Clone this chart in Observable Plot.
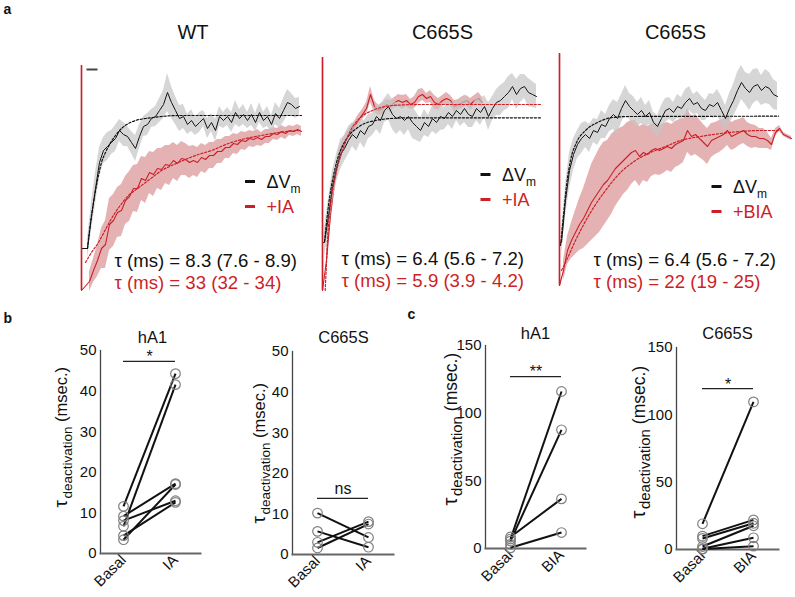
<!DOCTYPE html>
<html><head><meta charset="utf-8">
<script src="https://cdn.jsdelivr.net/npm/d3@7"></script>
<script src="https://cdn.jsdelivr.net/npm/@observablehq/plot@0.6"></script>
<style>
body{margin:0;background:#fff;}
#fig{position:relative;width:795px;height:597px;overflow:hidden;background:#fff;}
#fig svg{position:absolute;left:0;top:0;background:transparent;}
</style></head><body><div id="fig"></div>
<script>
// ---------------- DATA ----------------
const DT = 2; // ms between digitised samples

// Panel a – WT
const wtOnset = [-0.5, -23.0];
const wtCtrlT0 = 3;
const wtCtrl = [-18.8,-15.6,-12.8,-10.2,-9.0,-8.6,-8.2,-7.8,-7.0,-7.4,-7.6,-8.2,-8.8,-7.6,-6.6,-6.4,-5.8,-5.6,-5.0,-4.4,-3.2,-4.2,-5.0,-5.8,-5.6,-6.4,-6.0,-6.6,-6.2,-5.8,-6.8,-6.2,-7.0,-5.6,-6.0,-5.6,-6.2,-5.2,-5.8,-5.4,-6.0,-5.4,-6.2,-5.2,-6.0,-5.6,-6.4,-5.3,-5.8,-5.0,-4.2,-4.4,-4.8,-4.6];
const wtCtrlSem = [1.0,1.4,1.6,1.5,1.3,1.4,1.2,1.3,1.1,1.2,1.0,1.1,1.3,1.2,1.0,1.1,0.9,1.0,1.2,1.4,1.9,1.6,1.4,1.3,1.2,1.0,1.1,0.9,1.0,0.8,1.0,0.9,1.1,1.0,0.8,0.9,1.0,1.2,0.9,1.0,0.8,1.1,0.9,1.0,0.8,1.0,0.9,1.1,1.0,1.2,1.3,1.1,1.0,0.9];
const wtIAT0 = 4;
const wtIA = [-22.1,-21.0,-20.0,-18.8,-18.4,-16.4,-16.0,-15.2,-15.0,-14.0,-13.6,-12.8,-12.8,-11.8,-12.0,-11.2,-11.4,-10.8,-10.9,-10.4,-10.5,-10.0,-10.3,-9.8,-9.9,-10.2,-10.0,-10.2,-9.7,-9.9,-9.5,-9.5,-9.1,-9.1,-8.7,-8.7,-8.3,-8.4,-8.0,-8.1,-7.8,-7.9,-7.7,-7.9,-7.6,-7.6,-7.3,-7.4,-7.1,-7.3,-7.0,-7.1,-6.9,-7.1];
const wtIASem = [1.0,1.2,1.6,2.0,2.4,2.6,2.6,2.5,2.6,2.4,2.5,2.3,2.4,2.2,2.3,2.1,2.2,2.0,2.1,1.9,2.0,1.8,1.8,1.7,1.6,1.6,1.5,1.5,1.4,1.4,1.3,1.3,1.2,1.2,1.1,1.1,1.0,1.0,0.9,0.9,0.8,0.8,0.8,0.7,0.7,0.7,0.6,0.6,0.6,0.6,0.5,0.5,0.5,0.5];
const wtCtrlFit = [[3,-18.8],[4,-17.0],[5,-15.5],[6.5,-13.6],[8.5,-11.5],[10,-10.2],[12,-9.2],[14,-8.4],[17,-7.5],[20,-6.8],[23.5,-6.3],[27,-6.0],[32,-5.8],[36,-5.7],[40,-5.6],[48.5,-5.5],[60,-5.5],[110,-5.5]];
const wtIAFit = [[2,-20.2],[5,-19.2],[8.5,-18.2],[12,-16.9],[15,-15.8],[19,-14.6],[23.5,-13.5],[28,-12.8],[32,-12.2],[36,-11.6],[40,-11.0],[44,-10.6],[48.5,-10.2],[57,-9.5],[65,-9.0],[73.5,-8.3],[82,-7.8],[90,-7.5],[98.5,-7.2],[108.5,-7.0]];
const wtScaleBar = [{t1: 2.5, t2: 8, v: -0.9}];

// Panel a – C665S (+IA)
const c1Onset = [0.3, -23.0];
const c1CtrlT0 = 1;
const c1Ctrl = [-18.2,-15.6,-12.6,-10.8,-9.4,-8.8,-8.0,-7.4,-7.8,-7.0,-7.4,-6.6,-6.4,-5.6,-6.0,-5.0,-4.6,-5.4,-5.8,-5.6,-6.0,-5.6,-6.2,-6.6,-7.0,-6.2,-6.6,-5.8,-6.2,-5.6,-5.8,-5.2,-5.6,-5.0,-5.4,-4.8,-5.4,-5.6,-4.8,-5.2,-4.6,-5.6,-4.8,-4.2,-4.0,-3.6,-3.2,-2.6,-3.4,-2.8,-2.6,-3.2,-3.4,-3.6];
const c1CtrlSem = [1.5,1.8,1.6,1.4,1.5,1.3,1.4,1.2,1.3,1.2,1.4,1.2,1.1,1.3,1.4,1.2,1.3,1.5,1.6,1.4,1.5,1.3,1.6,1.4,1.2,1.3,1.1,1.3,1.2,1.4,1.1,1.2,1.3,1.0,1.2,1.4,1.3,1.1,1.2,1.3,1.1,1.4,1.2,1.3,1.5,1.4,1.6,1.3,1.5,1.4,1.2,1.4,1.3,1.2];
const c1IAT0 = 2;
const c1IA = [-20.0,-15.4,-12.2,-9.8,-8.6,-7.8,-7.2,-6.6,-6.0,-5.4,-4.8,-3.4,-4.6,-5.0,-4.8,-4.4,-4.6,-4.2,-4.0,-4.2,-4.0,-4.4,-4.2,-3.6,-3.4,-3.8,-3.6,-4.2,-4.4,-4.0,-3.8,-4.0,-4.6,-4.4,-4.2,-4.0,-4.4,-4.0,-3.8,-4.2];
const c1IASem = [0.8,1.2,1.0,0.8,0.7,0.6,0.6,0.5,0.6,0.5,0.6,0.8,0.6,0.5,0.6,0.5,0.6,0.5,0.6,0.7,0.6,0.5,0.6,0.7,0.6,0.5,0.6,0.7,0.6,0.5,0.6,0.5,0.6,0.5,0.6,0.5,0.6,0.5,0.6,0.5];
const c1CtrlFit = [[1,-18.1],[2,-16.2],[3,-14.5],[4.25,-12.8],[5.5,-11.5],[7,-10.2],[9,-9.0],[11.5,-8.0],[14,-7.3],[17,-6.8],[20,-6.4],[26.5,-6.0],[34,-5.8],[44,-5.73],[109,-5.73]];
const c1IAFit = [[1.35,-23],[2,-20.2],[2.5,-18.0],[4,-14.5],[6.5,-11.5],[10,-9.0],[14,-7.0],[19,-5.7],[25,-5.0],[31.5,-4.6],[39,-4.45],[49,-4.4],[109,-4.4]];

// Panel a – C665S (+BIA)
const c2Onset = [0.7, -22.5];
const c2CtrlT0 = 1;
const c2Ctrl = [-18.2,-14.0,-11.0,-9.4,-8.4,-7.8,-7.4,-7.8,-7.0,-7.2,-6.4,-6.6,-5.8,-5.4,-5.8,-4.8,-4.0,-4.6,-5.0,-5.4,-5.0,-5.6,-5.2,-6.2,-6.6,-5.8,-5.0,-4.8,-5.2,-4.6,-4.8,-4.2,-3.8,-4.4,-4.2,-4.8,-5.0,-4.4,-4.6,-4.2,-5.0,-5.8,-4.8,-4.0,-3.0,-2.2,-2.8,-3.2,-2.6,-2.4,-3.0,-2.6,-2.8,-3.4,-3.6];
const c2CtrlSem = [1.2,1.6,1.8,1.6,1.4,1.5,1.3,1.4,1.2,1.3,1.4,1.2,1.3,1.5,1.6,1.4,1.5,1.3,1.4,1.2,1.3,1.1,1.2,1.0,1.1,1.3,1.2,1.1,1.0,1.2,1.1,1.3,1.2,1.0,1.1,1.2,1.0,1.1,1.2,1.3,1.4,1.3,1.5,1.6,1.8,1.7,1.6,1.8,1.7,1.6,1.5,1.7,1.6,1.5,1.4];
const c2BIAT0 = 2;
const c2BIA = [-21.0,-19.0,-18.0,-17.2,-16.4,-15.8,-15.0,-14.2,-13.6,-13.0,-12.4,-12.0,-11.4,-10.8,-10.4,-10.0,-9.6,-9.2,-9.0,-9.6,-9.2,-9.4,-9.0,-8.8,-9.0,-8.8,-8.6,-8.8,-8.4,-8.2,-8.0,-7.0,-7.6,-7.4,-7.8,-8.2,-8.6,-8.0,-7.8,-7.6,-7.4,-7.0,-7.6,-7.4,-7.2,-7.0,-7.4,-7.6,-7.6,-7.8,-7.8,-8.0,-8.4,-7.2,-6.8,-7.4,-7.6,-7.8];
const c2BIASem = [1.0,1.4,1.8,2.2,2.6,3.0,3.4,3.8,4.0,4.2,4.2,4.0,4.0,3.8,3.6,3.4,3.4,3.2,3.0,3.0,2.8,2.8,2.6,2.6,2.5,2.5,2.4,2.4,2.3,2.3,2.2,2.2,2.0,2.0,1.9,1.8,1.8,1.7,1.6,1.6,1.5,1.5,1.4,1.4,1.3,1.3,1.2,1.2,1.1,1.0,1.0,0.8,0.6,0.4,0.3,0.2,0.2,0.2];
const c2CtrlFit = [[0.5,-18.5],[2,-15.5],[3.5,-12.5],[5.5,-10.0],[8.5,-8.2],[13,-7.0],[19,-6.2],[26.5,-5.7],[35.5,-5.6],[109.5,-5.57]];
const c2BIAFit = [[1,-21],[3,-20.2],[8,-18.0],[15.5,-15.2],[23,-13.0],[30.5,-11.2],[38,-10.0],[45.5,-9.2],[53,-8.6],[60.5,-8.0],[70.5,-7.6],[80.5,-7.3],[90.5,-7.1],[100.5,-7.0],[109.5,-7.0]];

// Panels b, c – paired tau (msec.)
const bHA1Basal = [11.6, 9.2, 8.1, 6.7, 4.4, 3.4];
const bHA1IA    = [44.3, 17.2, 13.0, 41.6, 12.6, 17.0];
const bC665SBasal = [10.2, 5.7, 3.0, 1.6];
const bC665SIA    = [4.2, 1.8, 8.1, 7.5];
const cHA1Basal = [8.5, 7.0, 5.5, 3.0, 0.5];
const cHA1BIA   = [36.7, 116, 87.7, null, 11.8];
const cC665SBasal = [19.1, 9.9, 8.2, 2.2, 0.5, 0.3];
const cC665SBIA   = [109.6, 22.0, 19.5, 17.6, 8.7, 2.5];
const ticks50 = [0, 10, 20, 30, 40, 50];
const ticks150 = [0, 50, 100, 150];

// ---------------- DRAWING ----------------
const W = 795, H = 597;
const RED = "#cc1f27";
const FONT = "'Liberation Sans', Arial, Helvetica, sans-serif";
const fig = document.getElementById("fig");
const DASH = {draw(ctx) { ctx.moveTo(-5, 0); ctx.lineTo(5, 0); }};

function txt(s, dx, dy, o = {}) {
  return Plot.text([s], {text: d => d, frameAnchor: "top-left", dx, dy, textAnchor: "start",
    lineAnchor: "bottom", fontSize: 18, fill: "#111", ...o});
}
function key(dx, dy, color) {
  return Plot.dot([0], {frameAnchor: "top-left", dx, dy, symbol: DASH, r: 5, stroke: color, strokeWidth: 3, fill: "none"});
}
const rows = (t0, v, s) => v.map((y, i) => ({t: t0 + i * DT, v: y, lo: y - s[i], hi: y + s[i]}));
const fitRows = f => f.map(([t, v]) => ({t, v}));

function tracePlot(c) {
  const ctrl = rows(c.ctrlT0, c.ctrl, c.ctrlSem);
  const drug = rows(c.drugT0, c.drug, c.drugSem);
  const ctrlLine = [{t: 0, v: c.onset[0]}, {t: 0, v: c.ctrl[0]}, ...ctrl];
  const drugLine = [{t: 0, v: c.onset[0]}, {t: 0, v: c.onset[1]}, ...drug];
  return Plot.plot({
    width: W, height: H, marginLeft: c.L, marginRight: W - c.R, marginTop: 60, marginBottom: H - 290,
    x: {domain: [0, c.tMax], axis: null}, y: {domain: [-23, 0], axis: null},
    style: {background: "transparent", fontFamily: FONT, overflow: "visible"},
    marks: [
      Plot.areaY(drug, {x: "t", y1: "lo", y2: "hi", fill: "#c0474c", fillOpacity: 0.42}),
      Plot.line(drugLine, {x: "t", y: "v", stroke: RED, strokeWidth: 1.1}),
      Plot.areaY(ctrl, {x: "t", y1: "lo", y2: "hi", fill: "#c4c4c4", fillOpacity: 0.7}),
      Plot.line(ctrlLine, {x: "t", y: "v", stroke: "#151515", strokeWidth: 1}),
      Plot.line(fitRows(c.ctrlFit), {x: "t", y: "v", stroke: "#111", strokeWidth: 1.2, strokeDasharray: "2.2,1.8", curve: "monotone-x"}),
      Plot.line(fitRows(c.drugFit), {x: "t", y: "v", stroke: RED, strokeWidth: 1.2, strokeDasharray: "2.2,1.8", curve: "monotone-x"}),
      Plot.ruleX([0], {y1: c.onset[0], y2: c.onset[1], stroke: RED, strokeWidth: 1.6}),
      ...(c.scaleBar ? [Plot.link(c.scaleBar, {x1: "t1", x2: "t2", y1: "v", y2: "v", stroke: "#444", strokeWidth: 2})] : []),
      txt(c.title, c.titleDx, -22, {textAnchor: "middle", fontSize: 20}),
      key(c.kx, c.ky, "#111"),
      txt("ΔV", c.kx + 16.5, c.ky + 6.5),
      txt("m", c.kx + 40.5, c.ky + 11, {fontSize: 12}),
      key(c.kx, c.ky + 25, RED),
      txt(c.drugName, c.kx + 16.5, c.ky + 31.5, {fill: RED}),
      txt(c.tau1, c.tx, c.ty, {fontSize: 18.6}),
      txt(c.tau2, c.tx, c.ty + 22, {fill: RED, fontSize: 18.6}),
      ...(c.extra || [])
    ]
  });
}

// rotated axis label "τ_deactivation (msec.)"; (dx, dy) = start of the τ baseline
function yLabel(dx, dy, big) {
  const o = {rotate: -90, textAnchor: "start", lineAnchor: "bottom", fill: "#111"};
  const f = big ? [20, 15, 17.5] : [19, 13.5, 16.5];
  const wTau = 0.47 * f[0], wSub = 5.336 * f[1], wSp = 0.278 * f[2];
  return [
    txt("τ", dx, dy, {...o, fontSize: f[0]}),
    txt("deactivation", dx + 5, dy - wTau, {...o, fontSize: f[1]}),
    txt("(msec.)", dx, dy - wTau - wSub - wSp, {...o, fontSize: f[2]})
  ];
}

function pairPlot(c) {
  const pairs = c.basal.map((b, i) => ({b, d: c.drug[i]})).filter(p => p.d != null);
  const pts = [...c.basal.map(v => ({c: "Basal", v})), ...c.drug.filter(v => v != null).map(v => ({c: c.cond, v}))];
  return Plot.plot({
    width: W, height: H, marginLeft: c.L, marginRight: W - c.R, marginTop: c.T, marginBottom: H - c.B,
    x: {type: "point", domain: ["Basal", c.cond], range: c.xr, padding: 0},
    y: {domain: [0, c.yMax]},
    style: {background: "transparent", fontFamily: FONT, overflow: "visible"},
    marks: [
      Plot.frame({anchor: "left", stroke: "#444", strokeWidth: 1.3}),
      Plot.frame({anchor: "bottom", stroke: "#666", strokeWidth: 2}),
      Plot.axisY({ticks: c.ticks, tickSize: 0, tickPadding: 4, fontSize: 15, label: null, fill: "#111"}),
      Plot.axisX({tickSize: 0, tickPadding: 4, tickRotate: -45, fontSize: 15, label: null, fill: "#111"}),
      Plot.link(pairs, {x1: () => "Basal", y1: "b", x2: () => c.cond, y2: "d", stroke: "#111", strokeWidth: 2}),
      Plot.dot(pts, {x: "c", y: "v", r: 4.8, stroke: "#808080", strokeWidth: 1.2, fill: "none"}),
      Plot.ruleY([c.sig], {x1: () => "Basal", x2: () => c.cond, stroke: "#222", strokeWidth: 1.3}),
      Plot.text([c.sigText], {text: d => d, x: () => "Basal", y: () => c.sig, dx: (c.xr[1] - c.xr[0]) / 2,
        dy: c.sigDy, lineAnchor: "bottom", fontSize: 16, fill: "#111"}),
      txt(c.title, (c.R - c.L) / 2 + c.titleDx, c.titleDy, {textAnchor: "middle", fontSize: 16.5}),
      ...yLabel(c.lx, c.ly, c.bigLabel),
      ...(c.extra || [])
    ]
  });
}

const plots = [
  tracePlot({L: 81, R: 302, tMax: 110.5, onset: wtOnset,
    ctrlT0: wtCtrlT0, ctrl: wtCtrl, ctrlSem: wtCtrlSem, drugT0: wtIAT0, drug: wtIA, drugSem: wtIASem,
    ctrlFit: wtCtrlFit, drugFit: wtIAFit, scaleBar: wtScaleBar,
    title: "WT", titleDx: 111.5, kx: 168.5, ky: 121, drugName: "+IA",
    tau1: "τ (ms) = 8.3 (7.6 - 8.9)", tau2: "τ (ms) = 33 (32 - 34)", tx: 33, ty: 206,
    extra: [txt("a", -78, -47, {fontWeight: "bold", fontSize: 14})]}),
  tracePlot({L: 322, R: 540, tMax: 109, onset: c1Onset,
    ctrlT0: c1CtrlT0, ctrl: c1Ctrl, ctrlSem: c1CtrlSem, drugT0: c1IAT0, drug: c1IA, drugSem: c1IASem,
    ctrlFit: c1CtrlFit, drugFit: c1IAFit,
    title: "C665S", titleDx: 120, kx: 163, ky: 114, drugName: "+IA",
    tau1: "τ (ms) = 6.4 (5.6 - 7.2)", tau2: "τ (ms) = 5.9 (3.9 - 4.2)", tx: 19, ty: 204}),
  tracePlot({L: 559, R: 795, tMax: 118, onset: c2Onset,
    ctrlT0: c2CtrlT0, ctrl: c2Ctrl, ctrlSem: c2CtrlSem, drugT0: c2BIAT0, drug: c2BIA, drugSem: c2BIASem,
    ctrlFit: c2CtrlFit, drugFit: c2BIAFit,
    title: "C665S", titleDx: 116, kx: 157, ky: 126, drugName: "+BIA",
    tau1: "τ (ms) = 6.4 (5.6 - 7.2)", tau2: "τ (ms) = 22 (19 - 25)", tx: 34, ty: 205}),
  pairPlot({L: 100, T: 350, R: 200, B: 553, xr: [123, 175], cond: "IA", basal: bHA1Basal, drug: bHA1IA,
    yMax: 50, ticks: ticks50, sig: 47.3, sigText: "*", sigDy: 1, title: "hA1", titleDx: 2, titleDy: -8,
    lx: -34, ly: 157, extra: [txt("b", -97, -28, {fontWeight: "bold", fontSize: 14})]}),
  pairPlot({L: 292, T: 351, R: 393, B: 554, xr: [317, 368], cond: "IA", basal: bC665SBasal, drug: bC665SIA,
    yMax: 50, ticks: ticks50, sig: 13.8, sigText: "ns", sigDy: -4, title: "C665S", titleDx: 0.5, titleDy: -9,
    lx: -28, ly: 172}),
  pairPlot({L: 485, T: 345, R: 585, B: 548, xr: [510, 561], cond: "BIA", basal: cHA1Basal, drug: cHA1BIA,
    yMax: 150, ticks: ticks150, sig: 127, sigText: "**", sigDy: 0, title: "hA1", titleDx: 0, titleDy: -7,
    lx: -29, ly: 160, bigLabel: true, extra: [txt("c", -78, -27, {fontWeight: "bold", fontSize: 14})]}),
  pairPlot({L: 676, T: 347, R: 778, B: 549, xr: [702, 753], cond: "BIA", basal: cC665SBasal, drug: cC665SBIA,
    yMax: 150, ticks: ticks150, sig: 119.5, sigText: "*", sigDy: 1, title: "C665S", titleDx: 0, titleDy: -9,
    lx: -32, ly: 171, bigLabel: true})
];
plots.forEach(p => fig.append(p));
</script></body></html>
